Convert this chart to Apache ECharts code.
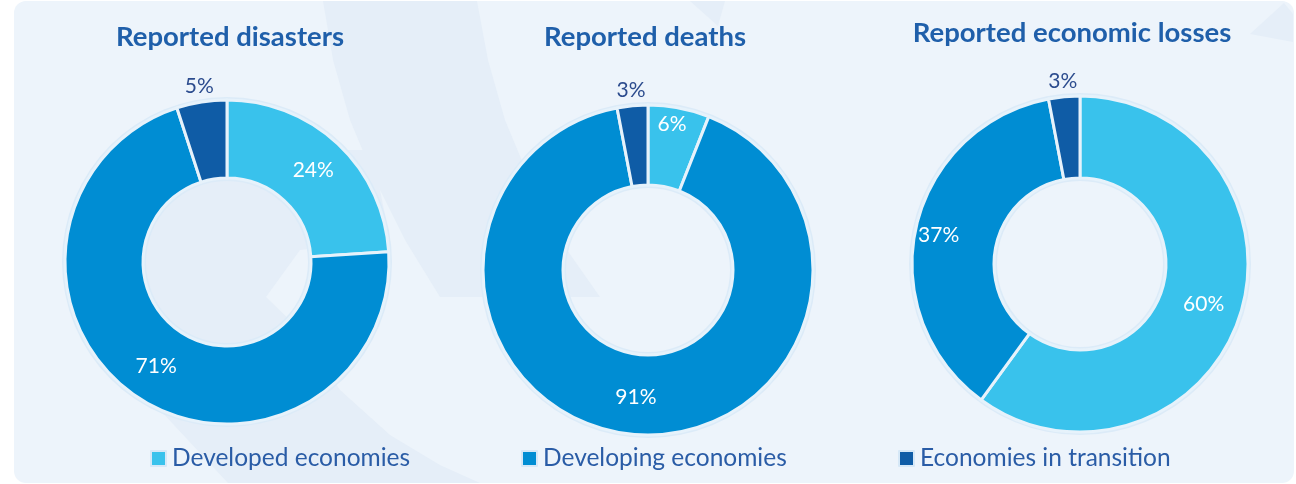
<!DOCTYPE html>
<html>
<head>
<meta charset="utf-8">
<script src="https://cdn.jsdelivr.net/npm/echarts@6/dist/echarts.min.js"></script>
<style>
  html, body { margin: 0; padding: 0; background: #ffffff; }
  #chart { width: 1296px; height: 484px; }
</style>
</head>
<body>
<div id="chart"></div>
<script>
// Shares (%) by economy group
const categories = ['Developed economies', 'Developing economies', 'Economies in transition'];
const panelTitles = ['Reported disasters', 'Reported deaths', 'Reported economic losses'];
const disasters = [24, 71, 5];
const deaths = [6, 91, 3];
const economicLosses = [60, 37, 3];
const panelValues = [disasters, deaths, economicLosses];

// Layout and style
const FONT = 'Lato, "Open Sans", sans-serif';
const sliceColors = ['#39C2EC', '#008DD3', '#0F5CA6'];
const panels = [
  { cx: 227, cy: 262, inner: 84, outer: 162, titleTop: 18 },
  { cx: 648, cy: 270, inner: 85, outer: 165, titleTop: 18 },
  { cx: 1080, cy: 264, inner: 86, outer: 168, titleTop: 14 }
];
const titleCenters = [225, 640, 1067];
const legendLeft = [145, 516, 893];
// hand-placed inside labels pushed outward from the ring's middle
const labelNudge = {
  '1-0': { formatter: '{c}%\n ', lineHeight: 41 },
  '2-1': { padding: [0, 29, 7, 0] }
};
const SMALL = 5; // slices this small carry their label outside the ring

const series = [];
panelValues.forEach((vals, p) => {
  const g = panels[p];
  const center = [g.cx, g.cy];
  // pale halo behind the ring
  series.push({
    type: 'pie', silent: true, center, radius: [g.inner - 3, g.outer + 3],
    label: { show: false }, labelLine: { show: false }, animation: false, z: 1,
    itemStyle: { color: '#DCEBF8' },
    data: [{ value: 1, name: 'halo' }]
  });
  series.push({
    type: 'pie', center, radius: [g.inner, g.outer], startAngle: 90, clockwise: true,
    avoidLabelOverlap: false, animation: false, z: 2,
    itemStyle: { borderColor: '#E6F2FB', borderWidth: 3 },
    label: {
      show: true, position: 'inside', formatter: '{c}%',
      color: '#ffffff', fontFamily: FONT, fontSize: 21
    },
    labelLine: { show: false },
    emphasis: { scale: false },
    data: vals.map((v, i) => ({
      name: categories[i], value: v,
      itemStyle: { color: sliceColors[i] },
      label: v <= SMALL ? { show: false } : (labelNudge[p + '-' + i] || {})
    }))
  });
  // outer ring carrying the labels of the thin slices
  series.push({
    type: 'pie', silent: true, center, radius: [g.outer + 2, g.outer + 23],
    startAngle: 90, clockwise: true, avoidLabelOverlap: false, animation: false, z: 3,
    itemStyle: { color: 'rgba(0,0,0,0)' },
    label: {
      show: true, position: 'inside', formatter: '{c}%',
      color: '#2C4C8E', fontFamily: FONT, fontSize: 21
    },
    labelLine: { show: false },
    data: vals.map((v, i) => ({
      name: categories[i], value: v,
      label: { show: v <= SMALL }
    }))
  });
});

const shade = '#E5EEF8';
const chart = echarts.init(document.getElementById('chart'), null, { renderer: 'canvas' });
chart.setOption({
  backgroundColor: '#ffffff',
  graphic: [
    {
      type: 'rect', z: -10, silent: true,
      shape: { x: 14, y: 1, width: 1280, height: 482, r: 12 },
      style: { fill: '#EDF4FB' }
    },
    {
      type: 'polygon', z: -9, silent: true,
      shape: { points: [[323, 1], [477, 1], [488, 60], [505, 120], [530, 180], [560, 240], [600, 297],
                        [440, 297], [405, 240], [375, 180], [350, 120], [333, 60]] },
      style: { fill: shade }
    },
    {
      type: 'polygon', z: -9, silent: true,
      shape: { points: [[110, 150], [372, 150], [390, 240], [300, 250], [266, 297], [300, 330], [160, 410], [110, 300]] },
      style: { fill: shade }
    },
    {
      type: 'polygon', z: -9, silent: true,
      shape: { points: [[160, 410], [300, 330], [340, 390], [390, 435], [440, 465], [480, 483], [228, 483]] },
      style: { fill: shade }
    },
    {
      type: 'polygon', z: -9, silent: true,
      shape: { points: [[690, 1], [725, 1], [718, 26]] },
      style: { fill: shade }
    },
    {
      type: 'polygon', z: -9, silent: true,
      shape: { points: [[1284, 3], [1293, 14], [1293, 42], [1250, 34]] },
      style: { fill: shade }
    }
  ],
  title: panelTitles.map((t, p) => ({
    text: t, left: titleCenters[p], top: panels[p].titleTop, textAlign: 'center',
    textStyle: { fontFamily: FONT, fontWeight: 'bold', fontSize: 27.5, color: '#1F5FAA' }
  })),
  legend: categories.map((c, i) => ({
    data: [c], left: legendLeft[i], top: 441, orient: 'horizontal',
    icon: 'rect', itemWidth: 15, itemHeight: 15, itemGap: 0,
    itemStyle: { borderColor: '#D6E8F7', borderWidth: 2 },
    textStyle: { fontFamily: FONT, fontSize: 24.5, color: '#2A5CA6', padding: [0, 0, 0, 1] },
    selectedMode: false
  })),
  series
});
</script>
</body>
</html>
